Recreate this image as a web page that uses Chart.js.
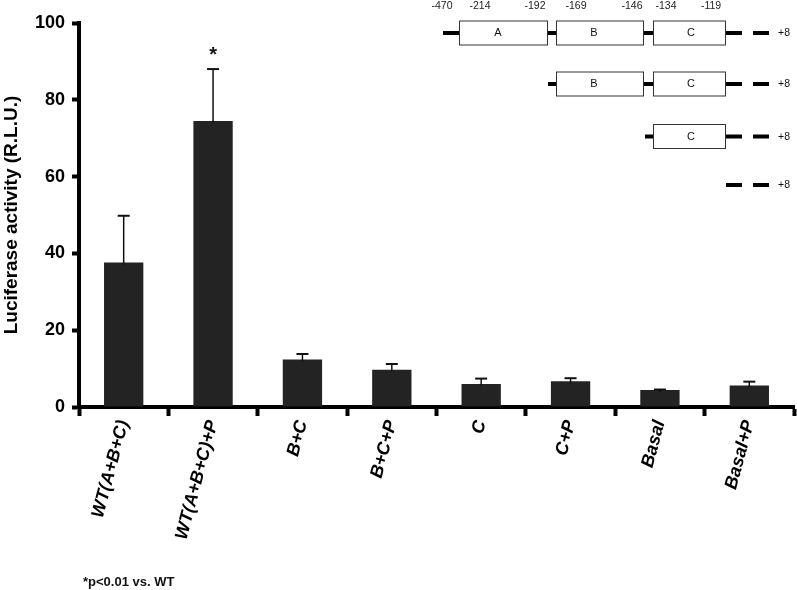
<!DOCTYPE html>
<html><head><meta charset="utf-8">
<script src="https://cdn.jsdelivr.net/npm/chart.js@4.4.1/dist/chart.umd.min.js"></script>
<style>html,body{margin:0;padding:0;background:#fff}#wrap{width:797px;height:590px;position:relative}</style>
</head><body><div id="wrap"><canvas id="c" width="797" height="590"></canvas></div>
<script>
// ---- data ----
const categories = ['WT(A+B+C)', 'WT(A+B+C)+P', 'B+C', 'B+C+P', 'C', 'C+P', 'Basal', 'Basal+P'];
const meanValues = [37.6, 74.5, 12.4, 9.7, 6.0, 6.7, 4.45, 5.6];
const errorValues = [12.2, 13.5, 1.4, 1.5, 1.4, 0.8, 0.1, 1.0];
const significance = ['', '*', '', '', '', '', '', ''];
const yTickValues = [0, 20, 40, 60, 80, 100];
const yTitle = 'Luciferase activity (R.L.U.)';
const footnote = '*p<0.01 vs. WT';
const promoterPositions = ['-470', '-214', '-192', '-169', '-146', '-134', '-119'];
const constructRows = [['A', 'B', 'C'], ['B', 'C'], ['C'], []];
const constructEnd = '+8';

const FONT = "'Liberation Sans', Arial, Helvetica, sans-serif";

const errorBarPlugin = {
  id: 'errorBars',
  afterDatasetsDraw(chart) {
    const ctx = chart.ctx;
    const y = chart.scales.y;
    const meta = chart.getDatasetMeta(0);
    ctx.save();
    ctx.strokeStyle = '#111';
    meta.data.forEach((bar, i) => {
      const top = y.getPixelForValue(meanValues[i] + errorValues[i]);
      ctx.lineWidth = 1.5;
      ctx.beginPath();
      ctx.moveTo(bar.x, bar.y + 2);
      ctx.lineTo(bar.x, top);
      ctx.stroke();
      ctx.lineWidth = 2;
      ctx.beginPath();
      ctx.moveTo(bar.x - 6, top);
      ctx.lineTo(bar.x + 6, top);
      ctx.stroke();
      if (significance[i]) {
        ctx.fillStyle = '#111';
        ctx.font = 'bold 20px ' + FONT;
        ctx.textAlign = 'center';
        ctx.textBaseline = 'alphabetic';
        ctx.fillText(significance[i], bar.x, top - 8);
      }
    });
    ctx.restore();
  }
};

const decorPlugin = {
  id: 'decor',
  afterDraw(chart) {
    const ctx = chart.ctx;
    ctx.save();
    // footnote
    ctx.fillStyle = '#111';
    ctx.font = 'bold 13px ' + FONT;
    ctx.textAlign = 'left';
    ctx.textBaseline = 'alphabetic';
    ctx.fillText(footnote, 83, 586);

    // promoter construct diagram
    const numX = [442, 480, 535, 576, 632, 666, 711];
    ctx.font = '10.5px ' + FONT;
    ctx.textAlign = 'center';
    ctx.textBaseline = 'middle';
    ctx.fillStyle = '#222';
    promoterPositions.forEach((t, i) => ctx.fillText(t, numX[i], 6));

    const boxes = { A: [459, 548], B: [556, 644], C: [653, 726] };
    const letterX = { A: 498, B: 594, C: 691 };
    const leftStart = { A: 443, B: 548, C: 645 };
    const rowY = [33, 84, 136.5, 185];
    const seg = (x1, x2, yy) => {
      ctx.fillStyle = '#000';
      ctx.fillRect(x1, yy - 2, x2 - x1, 4);
    };
    constructRows.forEach((row, r) => {
      const yy = rowY[r];
      if (row.length) {
        seg(leftStart[row[0]], boxes[row[0]][0], yy);
        for (let k = 1; k < row.length; k++) {
          seg(boxes[row[k - 1]][1], boxes[row[k]][0], yy);
        }
      }
      seg(726, 742, yy);
      seg(753, 769, yy);
      row.forEach(b => {
        const [x1, x2] = boxes[b];
        ctx.fillStyle = '#fff';
        ctx.fillRect(x1, yy - 12.5, x2 - x1, 25);
        ctx.strokeStyle = '#333';
        ctx.lineWidth = 1;
        ctx.strokeRect(x1 + 0.5, yy - 12, x2 - x1 - 1, 24);
        ctx.fillStyle = '#111';
        ctx.font = '11px ' + FONT;
        ctx.textAlign = 'center';
        ctx.textBaseline = 'middle';
        ctx.fillText(b, letterX[b], yy);
      });
      ctx.fillStyle = '#111';
      ctx.font = '10.5px ' + FONT;
      ctx.textAlign = 'center';
      ctx.textBaseline = 'middle';
      ctx.fillText(constructEnd, 784, yy + 0.5);
    });
    ctx.restore();
  }
};

new Chart(document.getElementById('c'), {
  type: 'bar',
  data: {
    labels: categories,
    datasets: [{
      data: meanValues,
      backgroundColor: '#232323',
      borderWidth: 0,
      barPercentage: 0.44,
      categoryPercentage: 1.0
    }]
  },
  options: {
    responsive: false,
    devicePixelRatio: 1,
    animation: false,
    layout: { padding: { top: 23, right: 3, bottom: 0, left: 0 } },
    plugins: { legend: { display: false }, tooltip: { enabled: false } },
    scales: {
      x: {
        offset: true,
        grid: { display: true, drawOnChartArea: false, drawTicks: true, tickLength: 9, tickWidth: 4, tickColor: '#000', offset: true },
        border: { display: true, color: '#000', width: 4 },
        ticks: {
          autoSkip: false, minRotation: 75, maxRotation: 75, padding: 2,
          color: '#000', font: { family: FONT, size: 18, weight: 'bold', style: 'italic' }
        },
        afterFit(s) { s.height = 183; }
      },
      y: {
        min: 0, max: 100,
        afterBuildTicks(s) { s.ticks = yTickValues.map(v => ({ value: v })); },
        grid: { display: true, drawOnChartArea: false, drawTicks: true, tickLength: 7, tickWidth: 4, tickColor: '#000' },
        border: { display: true, color: '#000', width: 4 },
        ticks: { padding: 7, color: '#000', font: { family: FONT, size: 18, weight: 'bold' } },
        title: { display: true, text: yTitle, color: '#000', padding: { top: 0, bottom: 0 }, font: { family: FONT, size: 19, weight: 'bold' } },
        afterFit(s) { s.width = 79; }
      }
    }
  },
  plugins: [errorBarPlugin, decorPlugin]
});
</script>
</body></html>
